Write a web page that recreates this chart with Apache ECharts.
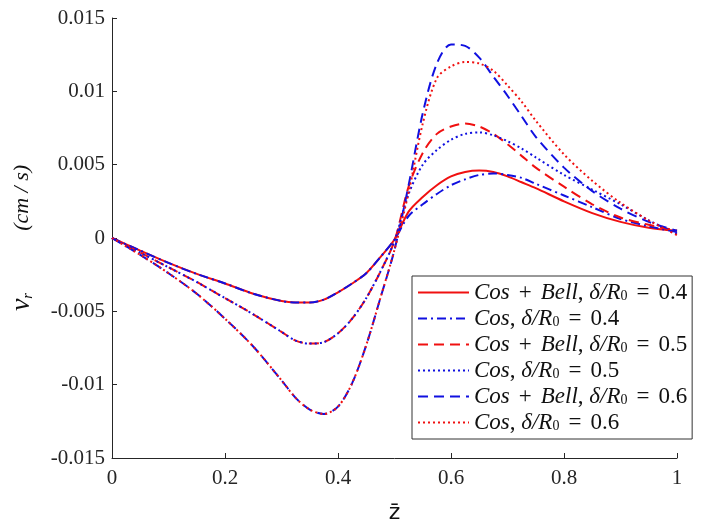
<!DOCTYPE html>
<html>
<head>
<meta charset="utf-8">
<script src="https://cdn.jsdelivr.net/npm/echarts@6/dist/echarts.min.js"></script>
<style>html,body{margin:0;padding:0;background:#fff;}#c{width:706px;height:529px;}</style>
</head>
<body>
<div id="c"></div>
<script>
// z-bar positions (shared by all curves)
var zBar = [0,0.05,0.1,0.15,0.2,0.25,0.3,0.325,0.35,0.375,0.4,0.425,0.45,0.475,0.5,
            0.525,0.55,0.575,0.6,0.625,0.65,0.675,0.7,0.725,0.75,0.8,0.85,0.9,0.95,1];

// v_r values (cm/s)
var cosBell04 = [0,-0.00086,-0.0017,-0.00245,-0.0031,-0.0038,-0.0043,-0.0044,-0.0044,-0.0042,-0.0037,-0.0031,-0.0024,-0.0013,-0.0001,
                 0.0018,0.0028,0.0036,0.0042,0.0045,0.0046,0.0045,0.0042,0.0038,0.0034,0.0025,0.0017,0.0011,0.0007,0.0005];
var cos04     = [0,-0.00086,-0.0017,-0.00245,-0.0031,-0.0038,-0.0043,-0.0044,-0.0044,-0.0042,-0.0037,-0.0031,-0.0024,-0.0013,-0.0001,
                 0.0015,0.0023,0.0030,0.0036,0.0040,0.0043,0.0044,0.0043,0.0041,0.0037,0.0029,0.0021,0.0013,0.0008,0.0004];
var cosBell05 = [0,-0.001,-0.002,-0.003,-0.0041,-0.0052,-0.0064,-0.0070,-0.0072,-0.0071,-0.0065,-0.0055,-0.0041,-0.0023,-0.0002,
                 0.0035,0.0058,0.0071,0.0076,0.0078,0.0076,0.0071,0.0064,0.0056,0.0048,0.0035,0.0023,0.0014,0.0009,0.0005];
var cos05     = [0,-0.001,-0.002,-0.003,-0.0041,-0.0052,-0.0064,-0.0070,-0.0072,-0.0071,-0.0065,-0.0055,-0.0041,-0.0023,-0.0002,
                 0.0030,0.0050,0.0060,0.0067,0.0071,0.0072,0.0070,0.0066,0.0061,0.0055,0.0043,0.0033,0.0023,0.0012,0.0003];
var cosBell06 = [0,-0.00115,-0.0024,-0.0038,-0.0055,-0.0074,-0.0097,-0.0109,-0.0117,-0.0120,-0.0115,-0.0099,-0.0073,-0.0041,-0.0008,
                 0.0036,0.0085,0.0119,0.0132,0.0131,0.0123,0.0110,0.0097,0.0083,0.0069,0.0048,0.0032,0.0020,0.0011,0.0005];
var cos06     = [0,-0.00115,-0.0024,-0.0038,-0.0055,-0.0074,-0.0097,-0.0109,-0.0117,-0.0120,-0.0115,-0.0099,-0.0073,-0.0041,-0.0008,
                 0.0031,0.0078,0.0109,0.0117,0.0120,0.0119,0.0114,0.0104,0.0093,0.0080,0.0057,0.0039,0.0024,0.0012,0.0002];

var kinds  = ['Cos + Bell','Cos','Cos + Bell','Cos','Cos + Bell','Cos'];
var deltas = ['0.4','0.4','0.5','0.5','0.6','0.6'];
var valuesList = [cosBell04, cos04, cosBell05, cos05, cosBell06, cos06];

var RED = '#f01010', BLUE = '#1010e0';
var styles = [
  {color: RED,  type: 'solid'},
  {color: BLUE, type: [9,4,2,4]},
  {color: RED,  type: [10,6]},
  {color: BLUE, type: [2,3]},
  {color: BLUE, type: [10,6]},
  {color: RED,  type: [2,3]}
];

var series = valuesList.map(function (vals, i) {
  return {
    name: kinds[i] + ', δ/R0 = ' + deltas[i],
    type: 'line',
    smooth: 0.3,
    symbol: 'none',
    data: zBar.map(function (z, k) { return [z, vals[k]]; }),
    lineStyle: {color: styles[i].color, width: 2, type: styles[i].type},
    itemStyle: {color: styles[i].color}
  };
});

function legendLabel(idx) {
  var parts = kinds[idx].split(' + ');
  var s = '{it|' + parts[0] + '}';
  if (parts.length > 1) s += '{op|+}{it|' + parts[1] + '}';
  s += '{n|, }{it|δ/R}{sub|0}{op|=}{n|' + deltas[idx] + '}';
  return s;
}

var serif = '"Liberation Serif", "DejaVu Serif", serif';
var axisCol = '#262626';

var chart = echarts.init(document.getElementById('c'));
chart.setOption({
  animation: false,
  backgroundColor: '#fff',
  grid: {left: 107, right: 29, top: 18, bottom: 65, containLabel: false},
  xAxis: {
    type: 'value', min: 0, max: 1, interval: 0.2,
    name: 'z\u0304', nameLocation: 'middle', nameGap: 44,
    nameTextStyle: {fontFamily: '"DejaVu Sans", sans-serif', fontSize: 22, color: '#111'},
    axisLine: {onZero: false, lineStyle: {color: axisCol, width: 1}},
    axisTick: {inside: true, length: 5, lineStyle: {color: axisCol}},
    axisLabel: {fontFamily: serif, fontSize: 21, color: axisCol, margin: 10},
    splitLine: {show: false}
  },
  yAxis: {
    type: 'value', min: -0.015, max: 0.015, interval: 0.005,
    name: '{v|v}{r|r}{g| }{u|(cm / s)}', nameLocation: 'middle', nameRotate: 90, nameGap: 76,
    nameTextStyle: {
      rich: {
        v: {fontFamily: serif, fontStyle: 'italic', fontSize: 28, color: '#111'},
        r: {fontFamily: serif, fontStyle: 'italic', fontSize: 15, color: '#111', padding: [12,0,0,0]},
        g: {width: 62, fontSize: 22},
        u: {fontFamily: serif, fontStyle: 'italic', fontSize: 22, color: '#111'}
      }
    },
    axisLine: {onZero: false, lineStyle: {color: axisCol, width: 1}},
    axisTick: {inside: true, length: 5, lineStyle: {color: axisCol}},
    axisLabel: {fontFamily: serif, fontSize: 21, color: axisCol, margin: 7},
    splitLine: {show: false}
  },
  legend: {
    orient: 'vertical', left: 412, top: 276,
    backgroundColor: '#fff', borderColor: '#333', borderWidth: 1,
    padding: [5, 5, 5, 5], itemGap: 3, itemWidth: 51, itemHeight: 14,
    itemStyle: {opacity: 0},
    data: series.map(function (s) { return s.name; }),
    formatter: function (name) {
      var idx = series.findIndex(function (s) { return s.name === name; });
      return legendLabel(idx);
    },
    textStyle: {
      fontFamily: serif, fontSize: 23, color: '#111', lineHeight: 22,
      rich: {
        it: {fontFamily: serif, fontStyle: 'italic', fontSize: 23, lineHeight: 22, color: '#111'},
        n: {fontFamily: serif, fontSize: 23, lineHeight: 22, color: '#111'},
        op: {fontFamily: serif, fontSize: 23, lineHeight: 22, color: '#111', padding: [0, 9, 0, 9]},
        sub: {fontFamily: serif, fontSize: 14, lineHeight: 14, color: '#111', padding: [8, 0, 0, 0]}
      }
    }
  },
  series: series
});
</script>
</body>
</html>
